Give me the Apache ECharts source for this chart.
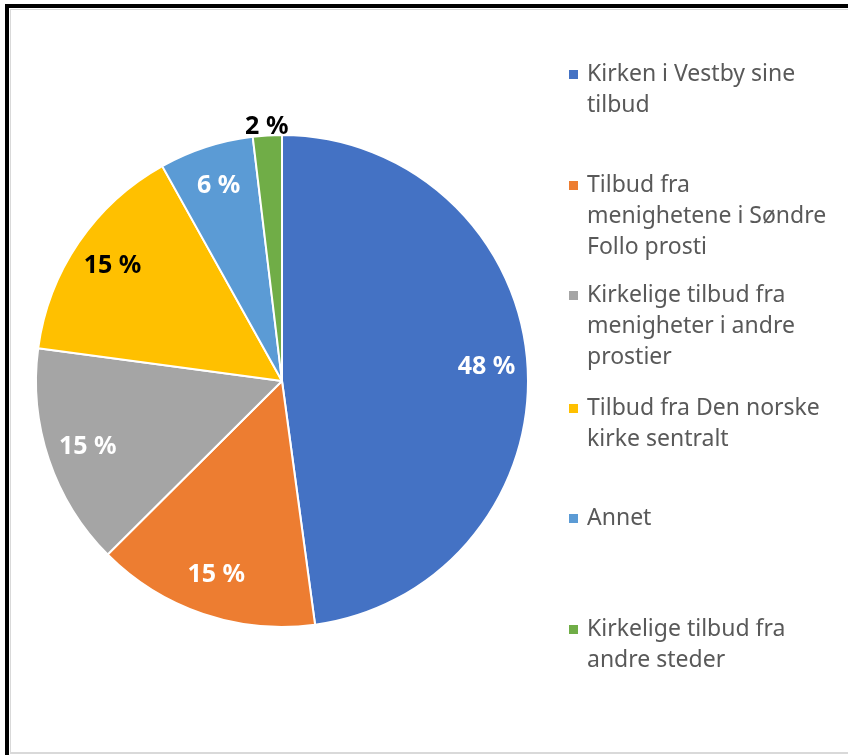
<!DOCTYPE html>
<html>
<head>
<meta charset="utf-8">
<script src="https://cdn.jsdelivr.net/npm/echarts@6/dist/echarts.min.js"></script>
<style>
    html, body {margin: 0; padding: 0; background: #fff;}
    #box {width: 848px; height: 755px;}
</style>
</head>
<body>
<div id="box"></div>
<script>
//数据
var categories = ['Kirken i Vestby sine tilbud', 'Tilbud fra menighetene i Søndre Follo prosti',
    'Kirkelige tilbud fra menigheter i andre prostier', 'Tilbud fra Den norske kirke sentralt',
    'Annet', 'Kirkelige tilbud fra andre steder'];
var legendLines = [
    ['Kirken i Vestby sine', 'tilbud'],
    ['Tilbud fra', 'menighetene i Søndre', 'Follo prosti'],
    ['Kirkelige tilbud fra', 'menigheter i andre', 'prostier'],
    ['Tilbud fra Den norske', 'kirke sentralt'],
    ['Annet'],
    ['Kirkelige tilbud fra', 'andre steder']
];
var shares = [47.9, 14.7, 14.6, 14.8, 6.2, 1.9];
var colors = ['#4472C4', '#ED7D31', '#A5A5A5', '#FFC000', '#5B9BD5', '#70AD47'];
var labelColors = ['#fff', '#fff', '#fff', '#000', '#fff', '#000'];

var legendTops = [28, 108, 218, 362, 503, 583];
var lineH = 31;
var font = '"Noto Sans", "Open Sans", sans-serif';

var chart = echarts.init(document.getElementById('box'));

var pieData = [], labelData = [], legends = [];
categories.forEach(function (name, i) {
    pieData.push({name: name, value: shares[i], itemStyle: {color: colors[i]}});
    var lbl = {color: labelColors[i]};
    if (i == 5) {
        lbl.offset = [-3, -49]; // 2 % ligger utenfor kaken
    }
    labelData.push({name: name, value: shares[i], label: lbl});
    legends.push({
        data: [{name: name, itemStyle: {color: colors[i]}}],
        left: 567,
        top: legendTops[i],
        padding: 0,
        icon: 'rect',
        itemWidth: 11,
        itemHeight: 11,
        selectedMode: false,
        formatter: function () {
            // tomme linjer foran, slik at ikonet står ved første linje
            var n = legendLines[i].length;
            return new Array(n).join('\n') + legendLines[i].join('\n');
        },
        textStyle: {
            fontFamily: font,
            fontSize: 23,
            lineHeight: lineH,
            color: '#595959',
            padding: [0, 0, 0, 3]
        }
    });
});

var option = {
    animation: false,
    legend: legends,
    graphic: [
        {type: 'rect', shape: {x: 10, y: 9, width: 838, height: 1}, style: {fill: '#d9d9d9'}},
        {type: 'rect', shape: {x: 10, y: 9, width: 1, height: 744}, style: {fill: '#d9d9d9'}},
        {type: 'rect', shape: {x: 10, y: 752, width: 838, height: 2}, style: {fill: '#d9d9d9'}},
        {type: 'rect', shape: {x: 5, y: 4, width: 843, height: 4}, style: {fill: '#000'}},
        {type: 'rect', shape: {x: 5, y: 4, width: 4, height: 751}, style: {fill: '#000'}}
    ],
    series: [
        {
            name: 'pie',
            type: 'pie',
            center: [282, 381],
            radius: [0, 246],
            startAngle: 90,
            clockwise: true,
            silent: true,
            label: {show: false},
            labelLine: {show: false},
            itemStyle: {borderColor: '#fff', borderWidth: 2},
            data: pieData
        },
        {
            name: 'labels',
            type: 'pie',
            center: [282, 381],
            radius: [158, 246],
            startAngle: 90,
            clockwise: true,
            silent: true,
            itemStyle: {color: 'rgba(0,0,0,0)', borderWidth: 0},
            labelLine: {show: false},
            label: {
                show: true,
                position: 'inside',
                fontFamily: font,
                fontWeight: 'bold',
                fontSize: 25,
                formatter: function (p) {
                    return Math.round(p.percent) + ' %';
                }
            },
            data: labelData
        }
    ]
};
chart.setOption(option);
</script>
</body>
</html>
